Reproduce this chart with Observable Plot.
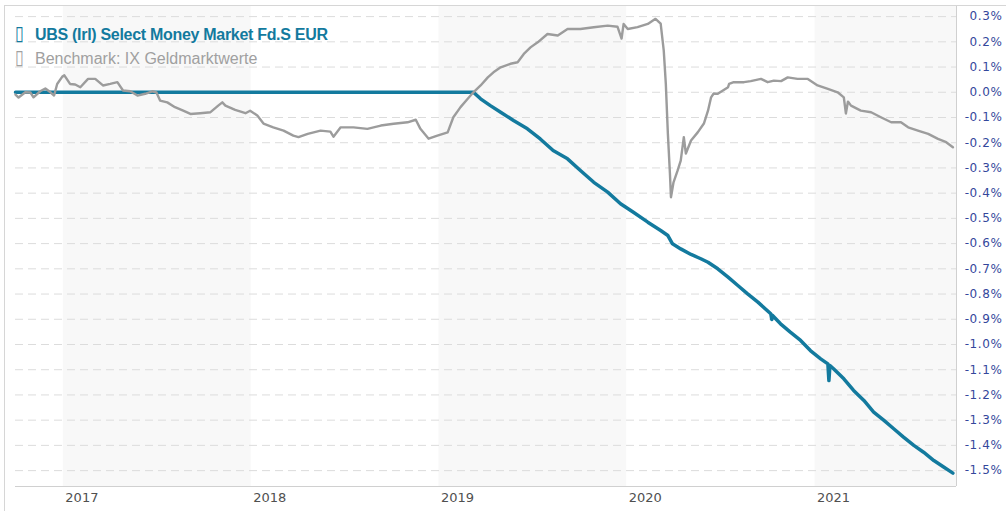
<!DOCTYPE html>
<html>
<head>
<meta charset="utf-8">
<script src="https://cdn.jsdelivr.net/npm/d3@7"></script>
<script src="https://cdn.jsdelivr.net/npm/@observablehq/plot@0.6"></script>
<style>
  body { margin: 0; background: #fff; }
  #wrap { position: relative; width: 1006px; height: 511px; overflow: hidden; }
  #wrap svg { position: absolute; left: 0; top: 0; background: transparent; }
  #frame { position: absolute; left: 4px; top: 5px; width: 1002px; height: 506px;
           border-left: 1px solid #d6d6d6; border-top: 1px solid #d6d6d6; pointer-events: none; }
  .leg { position: absolute; font-family: "Liberation Sans", Arial, sans-serif; font-size: 16px;
         line-height: 16px; white-space: nowrap; }
  .tofu { font-family: "DejaVu Sans", sans-serif; font-size: 20px; line-height: 20px; transform: scaleX(0.8); transform-origin: left top; }
  .ytick text { letter-spacing: 0.6px; }
</style>
</head>
<body>
<div id="wrap">
  <div id="chart"></div>
  <div id="frame"></div>
  <span class="leg tofu" style="left:15px;top:23px;color:#137a9e;">▯</span>
  <span class="leg" style="left:35px;top:26.5px;color:#137a9e;font-weight:bold;letter-spacing:-0.3px;">UBS (Irl) Select Money Market Fd.S EUR</span>
  <span class="leg tofu" style="left:15px;top:47px;color:#a0a0a0;">▯</span>
  <span class="leg" style="left:35px;top:50.5px;color:#a0a0a0;">Benchmark: IX Geldmarktwerte</span>
</div>
<script>
// ---- data ----
const fundName = "UBS (Irl) Select Money Market Fd.S EUR";
const benchName = "Benchmark: IX Geldmarktwerte";

const fundDates = [
  "2016-09-30","2019-03-09","2019-03-23","2019-04-11","2019-05-01","2019-05-26","2019-06-22",
  "2019-07-17","2019-08-11","2019-09-08","2019-10-03","2019-10-29","2019-11-25","2019-12-20",
  "2020-01-14","2020-02-11","2020-03-07","2020-03-21","2020-03-30","2020-04-15","2020-05-05",
  "2020-05-24","2020-06-07","2020-06-26","2020-07-16","2020-08-04","2020-08-23","2020-09-12",
  "2020-10-07","2020-10-09","2020-10-10","2020-10-26","2020-11-14","2020-12-04","2020-12-23",
  "2021-01-12","2021-01-26","2021-01-28","2021-01-30","2021-02-06","2021-02-26","2021-03-17",
  "2021-04-06","2021-04-25","2021-05-15","2021-06-03","2021-06-22","2021-07-12","2021-07-31",
  "2021-08-20","2021-09-08","2021-09-26"
];
const fundValues = [
  0, 0, -0.026, -0.053, -0.079, -0.112, -0.145,
  -0.185, -0.231, -0.264, -0.310, -0.357, -0.396, -0.442,
  -0.476, -0.515, -0.548, -0.568, -0.601, -0.621, -0.643,
  -0.660, -0.674, -0.700, -0.733, -0.766, -0.799, -0.832,
  -0.878, -0.901, -0.884, -0.918, -0.951, -0.984, -1.024,
  -1.057, -1.077, -1.143, -1.083, -1.096, -1.136, -1.182,
  -1.222, -1.268, -1.301, -1.334, -1.367, -1.400, -1.427,
  -1.460, -1.486, -1.510
];

const benchDates = [
  "2016-09-30","2016-10-06","2016-10-19","2016-10-29","2016-11-04","2016-11-17","2016-11-27",
  "2016-12-07","2016-12-14","2016-12-20","2016-12-30","2017-01-03","2017-01-14","2017-01-24",
  "2017-02-03","2017-02-18","2017-03-04","2017-03-19","2017-04-02","2017-04-16","2017-04-27",
  "2017-05-11","2017-05-25","2017-06-09","2017-06-23","2017-07-01","2017-07-08","2017-07-22",
  "2017-08-06","2017-08-22","2017-09-05","2017-09-24","2017-10-14","2017-10-29","2017-11-06",
  "2017-11-12","2017-12-01","2017-12-21","2017-12-30","2018-01-13","2018-01-25","2018-02-13",
  "2018-03-05","2018-03-24","2018-04-03","2018-04-21","2018-05-16","2018-06-04","2018-06-10",
  "2018-06-24","2018-07-19","2018-08-15","2018-09-10","2018-10-05","2018-11-01","2018-11-17",
  "2018-11-26","2018-12-12","2018-12-29","2019-01-18","2019-01-29","2019-02-12","2019-02-26",
  "2019-03-09","2019-03-23","2019-04-06","2019-04-17","2019-05-01","2019-05-20","2019-06-03",
  "2019-06-15","2019-06-28","2019-07-12","2019-07-31","2019-08-20","2019-09-08","2019-10-03",
  "2019-10-29","2019-11-25","2019-12-14","2019-12-22","2019-12-26","2020-01-03","2020-01-22",
  "2020-02-11","2020-02-26","2020-03-07","2020-03-13","2020-03-17","2020-03-21","2020-03-25",
  "2020-03-27","2020-04-01","2020-04-09","2020-04-15","2020-04-21","2020-04-25","2020-05-05",
  "2020-05-18","2020-05-30","2020-06-07","2020-06-13","2020-06-18","2020-06-26","2020-07-16",
  "2020-07-18","2020-07-27","2020-08-16","2020-08-29","2020-09-18","2020-10-01","2020-10-13",
  "2020-10-27","2020-11-09","2020-11-28","2020-12-18","2021-01-06","2021-01-26","2021-02-14",
  "2021-02-26","2021-03-02","2021-03-06","2021-03-12","2021-03-31","2021-04-20","2021-05-09",
  "2021-05-29","2021-06-17","2021-07-01","2021-07-20","2021-08-09","2021-08-28","2021-09-13",
  "2021-09-26"
];
const benchValues = [
  -0.009, -0.021, 0.000, -0.001, -0.020, 0.004, 0.015,
  0.000, -0.013, 0.033, 0.062, 0.067, 0.033, 0.031,
  0.020, 0.053, 0.053, 0.027, 0.033, 0.040, 0.007,
  0.004, -0.013, -0.006, 0.004, -0.001, -0.033, -0.040,
  -0.059, -0.073, -0.086, -0.083, -0.079, -0.053, -0.040,
  -0.053, -0.070, -0.083, -0.073, -0.092, -0.124, -0.139,
  -0.152, -0.172, -0.178, -0.165, -0.152, -0.156, -0.176,
  -0.139, -0.139, -0.145, -0.132, -0.125, -0.119, -0.109,
  -0.145, -0.184, -0.172, -0.159, -0.099, -0.059, -0.026,
  0.000, 0.027, 0.059, 0.079, 0.099, 0.113, 0.119,
  0.152, 0.178, 0.198, 0.231, 0.225, 0.251, 0.251,
  0.258, 0.264, 0.260, 0.213, 0.271, 0.251, 0.258,
  0.271, 0.291, 0.272, 0.165, 0.034, -0.164, -0.322,
  -0.416, -0.357, -0.310, -0.271, -0.178, -0.243, -0.191,
  -0.159, -0.124, -0.073, -0.020, -0.005, -0.006, 0.020,
  0.033, 0.040, 0.040, 0.044, 0.053, 0.040, 0.046,
  0.044, 0.059, 0.053, 0.053, 0.027, 0.013, 0.000,
  -0.020, -0.084, -0.037, -0.053, -0.073, -0.079, -0.099,
  -0.119, -0.119, -0.139, -0.152, -0.165, -0.185, -0.198,
  -0.218
];

const yearTicks = ["2017-01-01","2018-01-01","2019-01-01","2020-01-01","2021-01-01"];
const bandStarts = ["2017-01-01","2019-01-01","2021-01-01"];
const bandEnds   = ["2018-01-01","2020-01-01","2021-10-03"];
const yTicks = [0.3, 0.2, 0.1, 0, -0.1, -0.2, -0.3, -0.4, -0.5, -0.6, -0.7, -0.8, -0.9,
                -1.0, -1.1, -1.2, -1.3, -1.4, -1.5];
const xDomain = ["2016-09-30", "2021-10-03"];
const yDomain = [-1.563, 0.344];

// ---- build tables ----
const parse = d3.utcParse("%Y-%m-%d");
const fund = fundDates.map((d, i) => ({date: parse(d), value: fundValues[i]}));
const bench = benchDates.map((d, i) => ({date: parse(d), value: benchValues[i]}));
const bands = bandStarts.map((d, i) => ({x1: parse(d), x2: parse(bandEnds[i])}));

const chart = Plot.plot({
  width: 1006,
  height: 511,
  marginLeft: 15,
  marginRight: 50,
  marginTop: 5,
  marginBottom: 25,
  style: {background: "transparent", overflow: "visible"},
  x: {type: "utc", domain: xDomain.map(parse), label: null},
  y: {domain: yDomain, label: null},
  marks: [
    Plot.rectX(bands, {x1: "x1", x2: "x2", fill: "#f8f8f8"}),
    Plot.ruleY(yTicks, {stroke: "#dcdcdc", strokeWidth: 1, strokeDasharray: "8,5"}),
    Plot.ruleY([yDomain[0]], {stroke: "#d0d0d0", strokeWidth: 1}),
    Plot.ruleX([parse(xDomain[1])], {stroke: "#d0d0d0", strokeWidth: 1}),
    Plot.line(fund, {x: "date", y: "value", stroke: "#137a9e", strokeWidth: 3.5, strokeLinejoin: "round"}),
    Plot.line(bench, {x: "date", y: "value", stroke: "#9c9c9c", strokeWidth: 2.4, strokeLinejoin: "round"}),
    Plot.axisX({
      ticks: yearTicks.map(parse), tickFormat: d3.utcFormat("%Y"), label: null,
      tickSize: 0, tickPadding: 6, textAnchor: "start", dx: 2,
      fontSize: 13, fontFamily: "DejaVu Sans, Verdana, sans-serif", fill: "#505050"
    }),
    Plot.axisY({
      anchor: "right", ticks: yTicks, tickFormat: d => d.toFixed(1) + "%", label: null,
      tickSize: 0, tickPadding: 46, textAnchor: "end",
      fontSize: 12, fontFamily: "DejaVu Sans, Verdana, sans-serif", fill: "#34479c",
      className: "ytick"
    })
  ]
});
document.getElementById("chart").appendChild(chart);
</script>
</body>
</html>
